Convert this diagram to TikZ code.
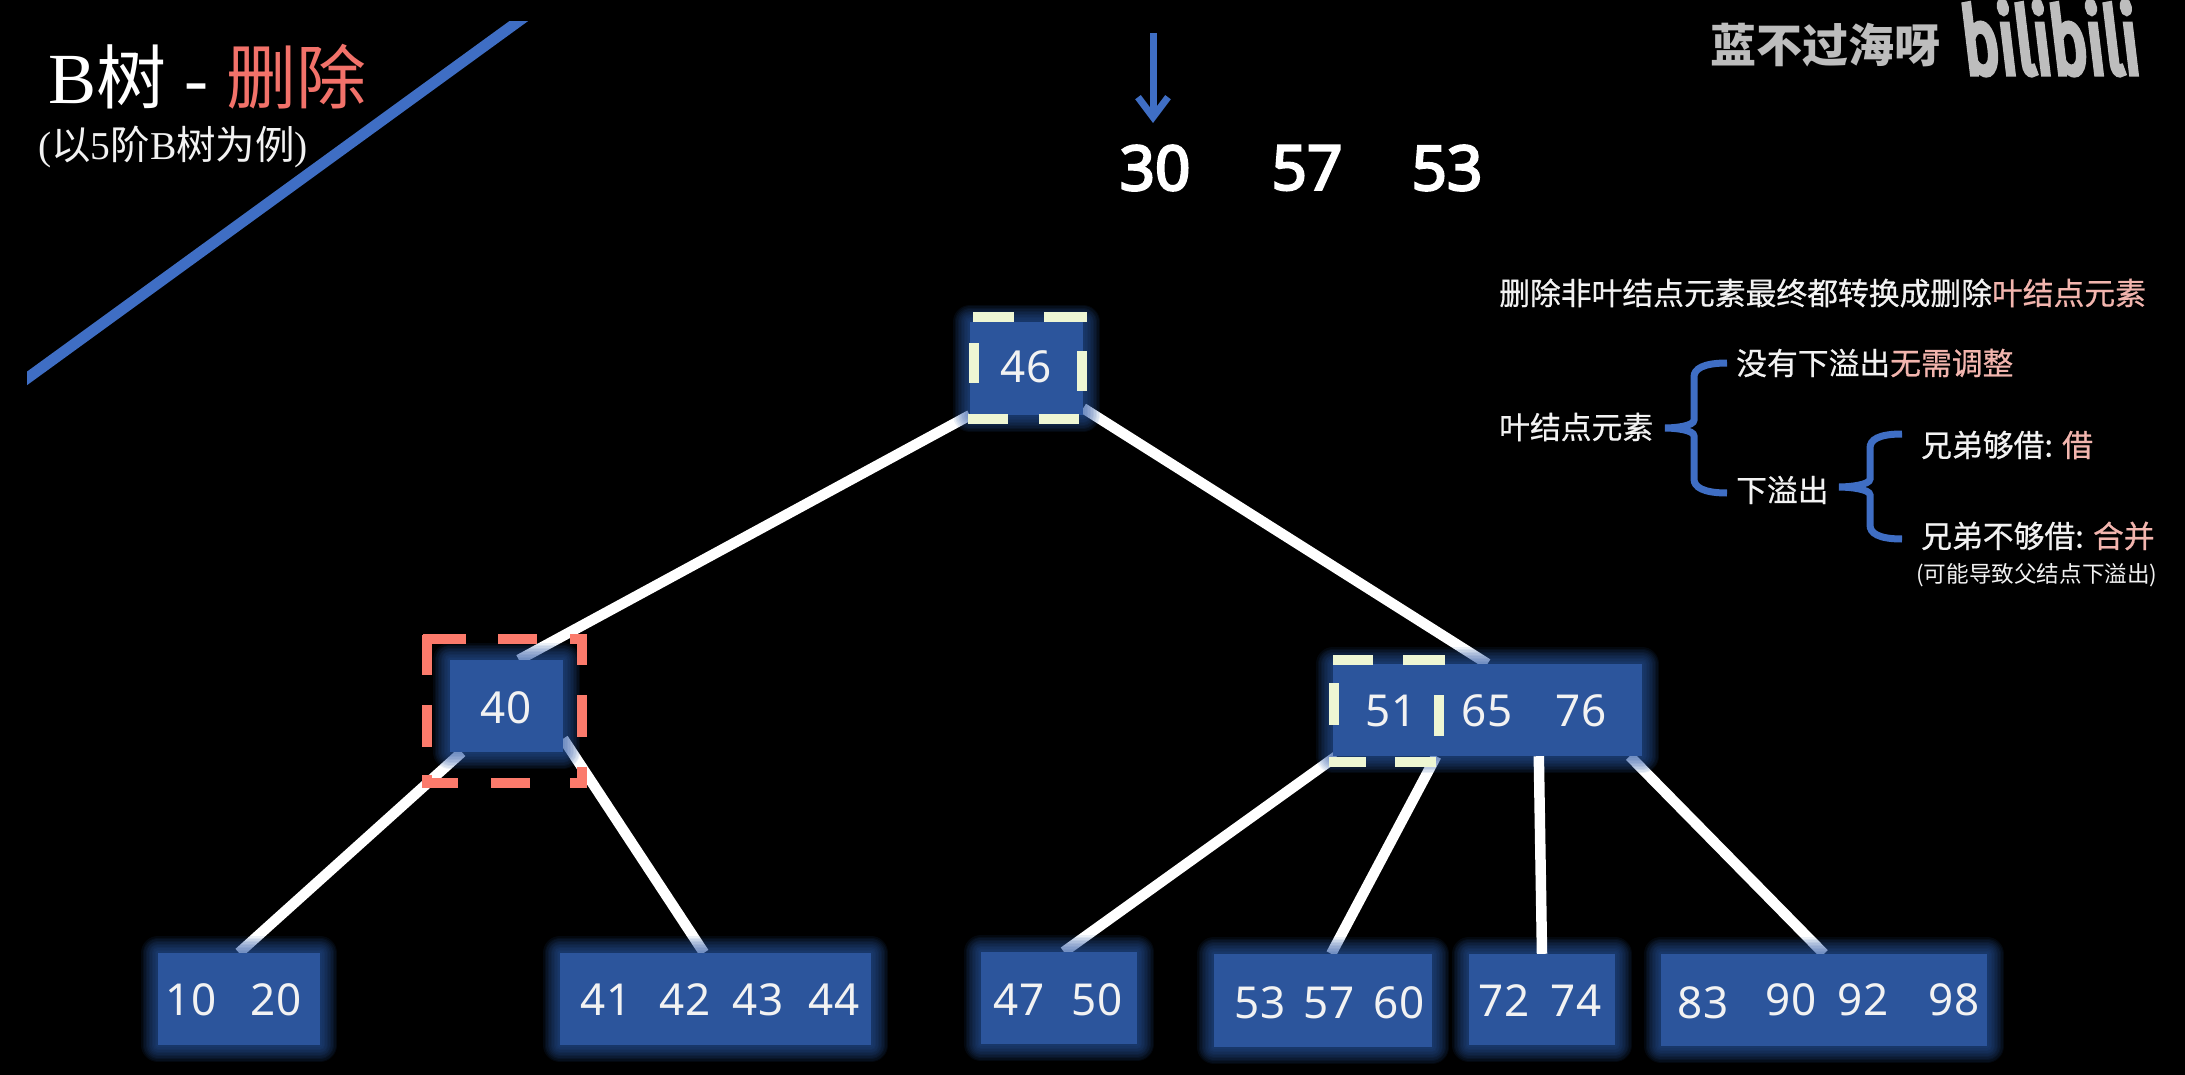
\documentclass[tikz,border=0pt]{standalone}
\usepackage{fontspec}
\setmainfont{Noto Sans}
\newfontfamily\cjk{Noto Sans CJK SC}
\newfontfamily\cjkm[FakeBold=.6]{Noto Sans CJK SC}
\newfontfamily\numheavy[FakeBold=3.5]{Noto Sans}
\newfontfamily\serif{Liberation Serif}
\newfontfamily\logofont[FakeBold=7]{Fira Sans}
\usetikzlibrary{arrows.meta,backgrounds}
\pgfdeclarelayer{bglayer}
\pgfdeclarelayer{conn}
\pgfdeclarelayer{top}
\pgfsetlayers{bglayer,conn,main,top}
\definecolor{boxblue}{HTML}{2C559C}
\definecolor{glowblue}{HTML}{2C5AA8}
\definecolor{lineblue}{HTML}{3F6EC4}
\definecolor{redframe}{HTML}{FB7A6B}
\definecolor{greenframe}{HTML}{EEF6D3}
\definecolor{pinktext}{HTML}{F2B5AE}
\definecolor{titlered}{HTML}{F2726A}
\definecolor{softwhite}{HTML}{F2F2F2}
\definecolor{wmgray}{HTML}{BDBDBD}
\newcommand{\fs}[1]{\fontsize{#1}{#1}\selectfont}
\tikzset{
  x=1pt,y=-1pt,
  glowring/.style={preaction={draw=glowblue,draw opacity=.09,line width=#1,line join=round}},
  treebox/.style={rectangle,inner sep=0pt,fill=boxblue,
    glowring=34pt,glowring=31pt,glowring=28pt,glowring=25pt,glowring=22pt,glowring=19pt,
    glowring=16pt,glowring=13pt,glowring=10pt,glowring=7pt,glowring=4pt},
  num/.style={inner sep=0pt,text=softwhite,font=\fs{44}},
  bignum/.style={inner sep=0pt,text=white,font=\numheavy\fs{62}},
  link/.style={draw=white,line width=10.5pt},
  brace/.style={draw=lineblue,line width=7pt},
  redseg/.style={draw=redframe,line width=10pt},
  greenseg/.style={draw=greenframe,line width=10pt},
  note/.style={inner sep=0pt,anchor=west,text=softwhite,font=\cjkm\fs{30.8}},
}
\begin{document}
\begin{tikzpicture}
\useasboundingbox (0,0) rectangle (2185,1075);
\begin{pgfonlayer}{bglayer}
  \fill[black] (0,0) rectangle (2185,1075);
\end{pgfonlayer}

% diagonal
\begin{scope}
  \clip (27,22) rectangle (700,500);
  \draw[draw=lineblue,line width=11pt] (-22,414) -- (567,-14);
\end{scope}

% title
\node[inner sep=0pt,anchor=west,text=white] (title) at (48,77)
  {{\serif\fs{72}B}{\cjk\fs{70}树}{\serif\fs{72}\ -\ }{\cjk\fs{70}\color{titlered}删除}};
\node[inner sep=0pt,anchor=west,text=softwhite] (subtitle) at (38,147)
  {{\serif\fs{39.5}(}{\cjk\fs{39.5}以}{\serif\fs{39.5}5}{\cjk\fs{39.5}阶}{\serif\fs{39.5}B}{\cjk\fs{39.5}树为例}{\serif\fs{39.5})}};

% watermark
\node[inner sep=0pt,anchor=west,text=wmgray,font=\cjk\fs{46}\bfseries] (wm) at (1710,45) {蓝不过海呀};
\node[inner sep=0pt,text=wmgray,xslant=-0.12,xscale=.66,transform shape,font=\logofont\fs{92}] (logo) at (2050,38) {bilibili};

% sequence
\coordinate (arrowstart) at (1153,33);
\coordinate (arrowend) at (1153,123);
\draw[draw=lineblue,line width=7pt,-{Straight Barb[length=20pt,width=30pt,line width=7pt]}] (arrowstart) -- (arrowend);
\node[bignum] (s30) at (1155,168) {30};
\node[bignum] (s57) at (1307,168) {57};
\node[bignum] (s53) at (1447,168) {53};

% boxes
\node[treebox,minimum width=113pt,minimum height=93pt] (root) at (1026.5,368.5) {};
\node[treebox,minimum width=113pt,minimum height=92pt] (nL) at (506.5,706) {};
\node[treebox,minimum width=309pt,minimum height=92pt] (nR) at (1487.5,710) {};
\node[treebox,minimum width=162pt,minimum height=92pt] (l1) at (239,999) {};
\node[treebox,minimum width=311pt,minimum height=92pt] (l2) at (715.5,999) {};
\node[treebox,minimum width=156pt,minimum height=92pt] (l3) at (1059,998) {};
\node[treebox,minimum width=218pt,minimum height=93pt] (l4) at (1323,1000.5) {};
\node[treebox,minimum width=146pt,minimum height=91pt] (l5) at (1542,999.5) {};
\node[treebox,minimum width=326pt,minimum height=92pt] (l6) at (1824,1000) {};

% numbers
\node[num] (t46) at (1026,367) {46};
\node[num] (t40) at (506,708) {40};
\node[num] (t51) at (1391,711) {51};
\node[num] (t65) at (1487,711) {65};
\node[num] (t76) at (1581,711) {76};
\node[num] (t10) at (191,1000) {10};
\node[num] (t20) at (276,1000) {20};
\node[num] (t41) at (606,1000) {41};
\node[num] (t42) at (685,1000) {42};
\node[num] (t43) at (758,1000) {43};
\node[num] (t44) at (834,1000) {44};
\node[num] (t47) at (1019,1000) {47};
\node[num] (t50) at (1097,1000) {50};
\node[num] (t53) at (1260,1003) {53};
\node[num] (t57) at (1329,1003) {57};
\node[num] (t60) at (1399,1003) {60};
\node[num] (t72) at (1504,1001) {72};
\node[num] (t74) at (1576,1001) {74};
\node[num] (t83) at (1703,1003) {83};
\node[num] (t90) at (1791,1000) {90};
\node[num] (t92) at (1863,1000) {92};
\node[num] (t98) at (1954,1000) {98};

% connectors
\begin{pgfonlayer}{conn}
  \draw[link] (root.south west) -- (nL.75);
  \draw[link] (root.-35) -- (nR.north);
  \draw[link] (nL.226.6) -- (l1.north);
  \draw[link] (nL.-30) -- (l2.104);
  \draw[link] (nR.197.5) -- (l3.84);
  \draw[link] (nR.222.9) -- (l4.80);
  \draw[link] (nR.342.6) -- (l6.north);
\end{pgfonlayer}
\begin{pgfonlayer}{top}
  \draw[link] (nR.318.8) -- (l5.north);
  % frames
  \draw[greenseg] (973,317) -- (1014,317) (1044,317) -- (1087,317)
    (1082,351) -- (1082,391) (968,419) -- (1008,419) (1039,419) -- (1079,419)
    (974,343) -- (974,383);
  \draw[redseg] (423,639) -- (466,639) (498,639) -- (537,639) (570,639) -- (587,639)
    (582,635) -- (582,665) (582,695) -- (582,737) (582,767) -- (582,788)
    (587,783) -- (570,783) (530,783) -- (491,783) (458,783) -- (423,783)
    (427,635) -- (427,675) (427,705) -- (427,747) (427,775) -- (427,788);
  \draw[greenseg] (1333,660) -- (1373,660) (1403,660) -- (1445,660)
    (1334,683) -- (1334,725) (1439,695) -- (1439,736)
    (1329,762) -- (1366,762) (1395,762) -- (1436,762);
\end{pgfonlayer}

% notes
\node[note] (n1) at (1499,293) {删除非叶结点元素最终都转换成删除{\color{pinktext}叶结点元素}};
\node[note] (n2) at (1499,427) {叶结点元素};
\node[note] (n3) at (1736,363) {没有下溢出{\color{pinktext}无需调整}};
\node[note] (n4) at (1736,490) {下溢出};
\node[note] (n5) at (1921,445) {兄弟够借: {\color{pinktext}借}};
\node[note] (n6) at (1921,536) {兄弟不够借: {\color{pinktext}合并}};
\node[note,font=\cjk\fs{22.6}] (n7) at (1916,575) {(可能导致父结点下溢出)};

% braces
\coordinate (b1top) at (1727,363);
\coordinate (b1tip) at (1665,428);
\coordinate (b1bot) at (1727,493);
\draw[brace] (b1top) .. controls +(-24,0) and +(0,-8) .. ++(-33,14) -- ++(0,43)
  .. controls +(0,6) and +(10,0) .. (b1tip)
  .. controls +(10,0) and +(0,-6) .. ++(29,8) -- ++(0,43)
  .. controls +(0,8) and +(-24,0) .. (b1bot);
\coordinate (b2top) at (1902,434);
\coordinate (b2tip) at (1839,487);
\coordinate (b2bot) at (1902,539);
\draw[brace] (b2top) .. controls +(-24,0) and +(0,-8) .. ++(-32,14) -- ++(0,31)
  .. controls +(0,6) and +(10,0) .. (b2tip)
  .. controls +(10,0) and +(0,-6) .. ++(31,8) -- ++(0,30)
  .. controls +(0,8) and +(-24,0) .. (b2bot);
\end{tikzpicture}
\end{document}
